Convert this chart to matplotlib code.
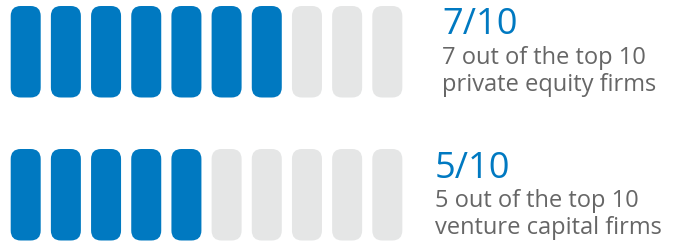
import matplotlib
matplotlib.use("Agg")
import matplotlib.pyplot as plt
from matplotlib.patches import FancyBboxPatch

# data
filled = [7, 5]
total = 10
headlines = ["7/10", "5/10"]
captions = [["7 out of the top 10", "private equity firms"],
            ["5 out of the top 10", "venture capital firms"]]

BLUE = "#0079c1"
GREY = "#e5e6e6"
TEXT_GREY = "#666666"

fig = plt.figure(figsize=(6.73, 2.43), dpi=100)
ax = fig.add_axes([0, 0, 1, 1])
ax.set_xlim(0, 673)
ax.set_ylim(243, 0)
ax.axis("off")

# layout in pixels
x0, pitch, w = 10.7, 40.18, 30
row_top = [6, 149]
h = 91.5
rad = 10
text_x = [442, 435]

for r, n in enumerate(filled):
    for i in range(total):
        col = BLUE if i < n else GREY
        p = FancyBboxPatch((x0 + i * pitch + rad, row_top[r] + rad),
                           w - 2 * rad, h - 2 * rad,
                           boxstyle=f"round,pad={rad}",
                           fc=col, ec="none")
        ax.add_patch(p)
    y = row_top[r]
    ax.text(text_x[r], y + 28.5, headlines[r], color=BLUE, fontsize=26,
            family="Open Sans", va="baseline", ha="left")
    for k, line in enumerate(captions[r]):
        ax.text(text_x[r], y + 58 + 27 * k, line, color=TEXT_GREY,
                fontsize=17, family="Open Sans", va="baseline", ha="left")

fig.savefig("out.png", dpi=100)
